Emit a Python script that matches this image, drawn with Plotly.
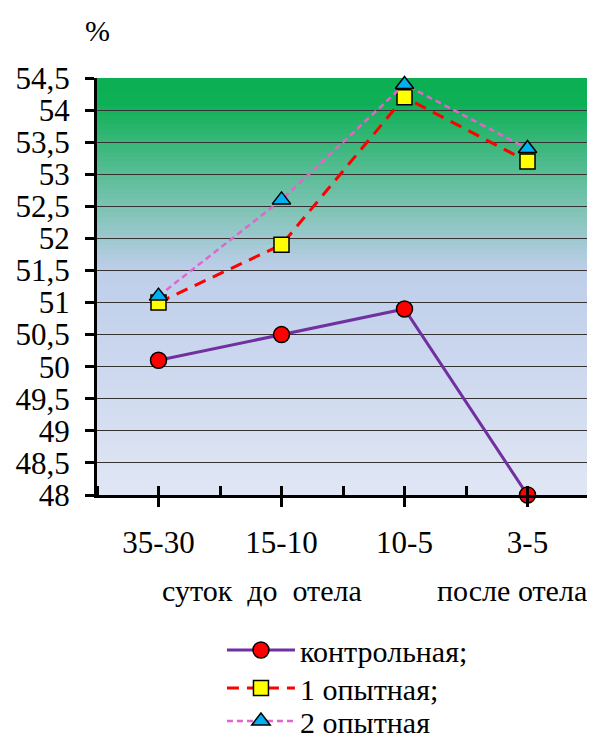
import plotly.graph_objects as go

# данные
periods = ["35-30", "15-10", "10-5", "3-5"]
control = [50.1, 50.5, 50.9, 48.0]
exp_1 = [51.0, 51.9, 54.2, 53.2]
exp_2 = [51.1, 52.6, 54.4, 53.4]
y_ticks = [48 + 0.5 * i for i in range(14)]
y_labels = [f"{v:g}".replace(".", ",") for v in y_ticks]

FONT = "Liberation Serif, Times New Roman, serif"
x_pos = list(range(len(periods)))

fig = go.Figure()

fig.add_trace(go.Scatter(
    x=x_pos, y=control, name="контрольная;", mode="lines+markers",
    line=dict(color="#7030a0", width=3),
    marker=dict(symbol="circle", size=16, color="#ff0000",
                line=dict(color="black", width=1.5)),
    cliponaxis=False, legend="legend",
))
fig.add_trace(go.Scatter(
    x=x_pos, y=exp_1, name="1 опытная;", mode="lines+markers",
    line=dict(color="#ff0000", width=3, dash="12px,8px"),
    marker=dict(symbol="square", size=15, color="#ffff00",
                line=dict(color="black", width=1.5)),
    cliponaxis=False, legend="legend2",
))
fig.add_trace(go.Scatter(
    x=x_pos, y=exp_2, name="2 опытная", mode="lines+markers",
    line=dict(color="#e066cc", width=2.5, dash="6px,4px"),
    marker=dict(symbol="triangle-up", size=16, color="#00b0f0",
                line=dict(color="black", width=1.5)),
    cliponaxis=False, legend="legend3",
))


# градиентный фон области построения (зелёный -> голубой -> светлый)
def _mix(c1, c2, t):
    return "rgb({},{},{})".format(*[round(a + (b - a) * t) for a, b in zip(c1, c2)])


stops = [(0.0, (11, 176, 82)), (0.06, (14, 176, 86)), (0.46, (190, 206, 234)), (1.0, (224, 230, 244))]
n_strips = 90
for i in range(n_strips):
    f = (i + 0.5) / n_strips  # от верха
    for (p0, c0), (p1, c1) in zip(stops[:-1], stops[1:]):
        if p0 <= f <= p1:
            col = _mix(c0, c1, (f - p0) / (p1 - p0) if p1 > p0 else 0)
            break
    fig.add_shape(type="rect", xref="x domain", yref="y domain",
                  x0=0, x1=1, y0=1 - (i + 1) / n_strips - 0.002, y1=1 - i / n_strips,
                  fillcolor=col, line_width=0, layer="below")

fig.add_annotation(text="суток  до  отела", x=0.845, y=-0.228, xref="x", yref="paper",
                   yanchor="middle", showarrow=False,
                   font=dict(family=FONT, size=30, color="black"))
fig.add_annotation(text="после отела", x=2.87, y=-0.228, xref="x", yref="paper",
                   yanchor="middle", showarrow=False,
                   font=dict(family=FONT, size=30, color="black"))
fig.add_annotation(text="%", x=0.0, y=1.115, xref="paper", yref="paper",
                   xanchor="center", yanchor="middle", showarrow=False,
                   font=dict(family=FONT, size=30, color="black"))

fig.update_xaxes(
    range=[-0.5, 3.5], tickvals=x_pos, ticktext=periods,
    ticks="outside", ticklen=9, tickwidth=2.5, tickcolor="black",
    minor=dict(tick0=-0.5, dtick=0.5, ticks="inside", ticklen=9,
               tickwidth=2.5, tickcolor="black"),
    showline=True, linecolor="black", linewidth=3,
    showgrid=False, zeroline=False, ticklabelstandoff=9,
    tickfont=dict(family=FONT, size=31, color="black"),
)
fig.update_yaxes(
    range=[48, 54.5], tickvals=y_ticks, ticktext=y_labels,
    ticks="outside", ticklen=9, tickwidth=2.5, tickcolor="black",
    showline=True, linecolor="black", linewidth=3,
    showgrid=True, gridcolor="#333333", gridwidth=1, zeroline=False,
    ticklabelstandoff=9,
    tickfont=dict(family=FONT, size=31, color="black"),
)

legend_style = dict(x=0.254, xanchor="left", yanchor="middle", itemwidth=68,
                    font=dict(family=FONT, size=30, color="black"),
                    bgcolor="rgba(0,0,0,0)")

# страница добавляет отступ 8px сверху и слева — компенсируем размерами
fig.update_layout(
    width=587, height=730,
    margin=dict(l=89, r=6, t=70, b=243, autoexpand=False),
    paper_bgcolor="white", plot_bgcolor="rgba(0,0,0,0)",
    font=dict(family=FONT, color="black"),
    legend=dict(y=-0.3717, **legend_style),
    legend2=dict(y=-0.4628, **legend_style),
    legend3=dict(y=-0.5420, **legend_style),
    showlegend=True,
)

fig.write_html("out.html")
